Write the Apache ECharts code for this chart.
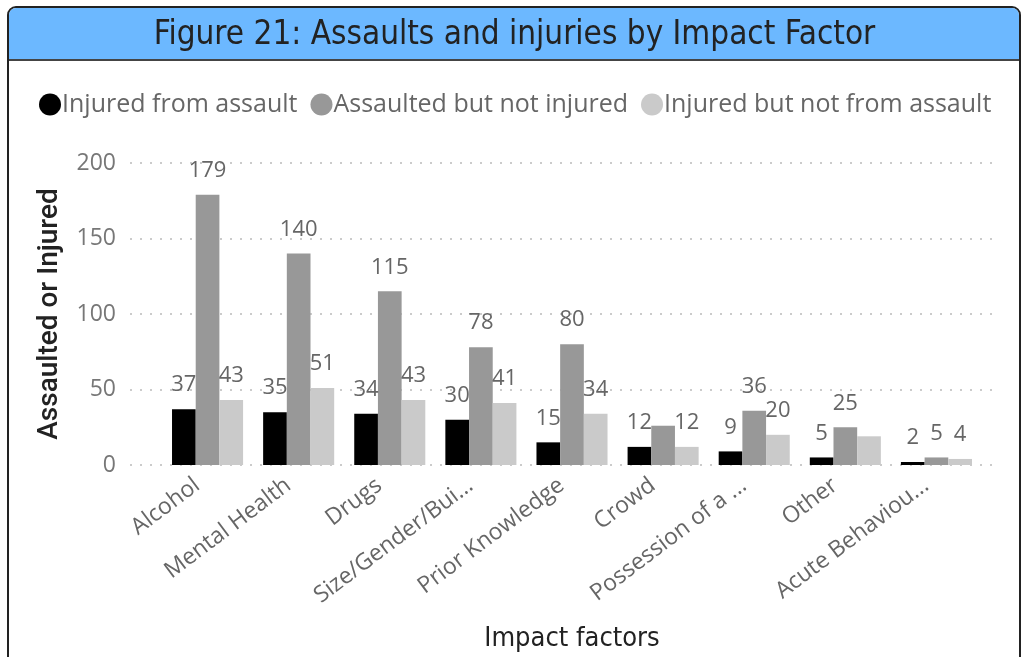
<!DOCTYPE html>
<html>
<head>
<meta charset="utf-8">
<script src="https://cdn.jsdelivr.net/npm/echarts@6/dist/echarts.min.js"></script>
<style>
  html, body { margin: 0; padding: 0; background: #fff; }
  #chart { width: 1029px; height: 657px; }
</style>
</head>
<body>
<div id="chart"></div>
<script>
// impact factors (truncated as in the source)
const categories = ['Alcohol', 'Mental Health', 'Drugs', 'Size/Gender/Bui...', 'Prior Knowledge', 'Crowd', 'Possession of a ...', 'Other', 'Acute Behaviou...']
const injuredFromAssault = [37, 35, 34, 30, 15, 12, 9, 5, 2]
const assaultedNotInjured = [179, 140, 115, 78, 80, 26, 36, 25, 5]
const injuredNotFromAssault = [43, 51, 43, 41, 34, 12, 20, 19, 4]
// labels that the source hides because they collide (false = hidden)
const assaultedShowLabel = [true, true, true, true, true, false, true, true, true]
const notAssaultShowLabel = [true, true, true, true, true, true, true, false, true]
const seriesNames = ['Injured from assault', 'Assaulted but not injured', 'Injured but not from assault']

const labelFont = 'Open Sans'
const headFont = 'DejaVu Sans Condensed'

const chart = echarts.init(document.getElementById('chart'))

function barLabel() {
  return {
    show: true,
    position: 'top',
    distance: 13,
    color: '#666',
    fontFamily: labelFont,
    fontSize: 22
  }
}

function withLabels(values, shown) {
  return values.map((v, i) => shown[i] ? v : { value: v, label: { show: false } })
}

chart.setOption({
  animation: false,
  color: ['#000000', '#989898', '#cacaca'],
  graphic: [
    {
      type: 'rect',
      shape: { x: 8, y: 7, width: 1012, height: 660, r: 8 },
      style: { fill: '#fff', stroke: '#222', lineWidth: 2 },
      z: -10
    },
    {
      type: 'rect',
      shape: { x: 9, y: 8, width: 1010, height: 52, r: [7, 7, 0, 0] },
      style: { fill: '#6cb8ff' },
      z: -9
    },
    {
      type: 'rect',
      shape: { x: 9, y: 59, width: 1010, height: 2 },
      style: { fill: '#444' },
      z: -8
    }
  ],
  title: {
    text: 'Figure 21: Assaults and injuries by Impact Factor',
    left: 'center',
    top: 14,
    textStyle: {
      fontFamily: headFont,
      fontSize: 33,
      fontWeight: 'normal',
      color: '#222'
    }
  },
  legend: {
    left: 34,
    top: 87,
    icon: 'circle',
    itemWidth: 22,
    itemHeight: 22,
    itemGap: 13,
    textStyle: {
      fontFamily: labelFont,
      fontSize: 25,
      color: '#666',
      padding: [0, 0, 0, -4]
    },
    data: seriesNames
  },
  grid: [
    { left: 162, right: 47, top: 163, bottom: 192 },
    // wider grid only for the dotted gridlines
    { left: 130, right: 29, top: 163, bottom: 192 }
  ],
  xAxis: [
    {
      type: 'category',
      gridIndex: 0,
      data: categories,
      name: 'Impact factors',
      nameLocation: 'middle',
      nameGap: 160,
      nameTextStyle: {
        fontFamily: headFont,
        fontSize: 27,
        color: '#222'
      },
      axisLine: { show: false },
      axisTick: { show: false },
      axisLabel: {
        rotate: 37,
        margin: 10,
        padding: [0, 13, 0, 0],
        interval: 0,
        color: '#666',
        fontFamily: labelFont,
        fontSize: 23
      }
    },
    {
      type: 'value',
      gridIndex: 1,
      show: false
    }
  ],
  yAxis: [
    {
      type: 'value',
      gridIndex: 0,
      min: 0,
      max: 200,
      interval: 50,
      name: 'Assaulted or Injured',
      nameLocation: 'middle',
      nameGap: 98,
      nameTextStyle: {
        fontFamily: 'Roboto',
        fontSize: 28,
        fontWeight: 500,
        color: '#222'
      },
      axisLabel: {
        margin: 46,
        color: '#777',
        fontFamily: labelFont,
        fontSize: 23
      },
      splitLine: { show: false }
    },
    {
      type: 'value',
      gridIndex: 1,
      min: 0,
      max: 200,
      interval: 50,
      axisLine: { show: false },
      axisTick: { show: false },
      axisLabel: { show: false },
      splitLine: {
        lineStyle: { type: [2, 8], color: '#bbb', width: 1.5 }
      },
      z: -1
    }
  ],
  series: [
    {
      name: seriesNames[0],
      type: 'bar',
      barGap: '0%',
      barCategoryGap: '22%',
      data: injuredFromAssault,
      label: barLabel()
    },
    {
      name: seriesNames[1],
      type: 'bar',
      data: withLabels(assaultedNotInjured, assaultedShowLabel),
      label: barLabel()
    },
    {
      name: seriesNames[2],
      type: 'bar',
      data: withLabels(injuredNotFromAssault, notAssaultShowLabel),
      label: barLabel()
    }
  ]
})
</script>
</body>
</html>
